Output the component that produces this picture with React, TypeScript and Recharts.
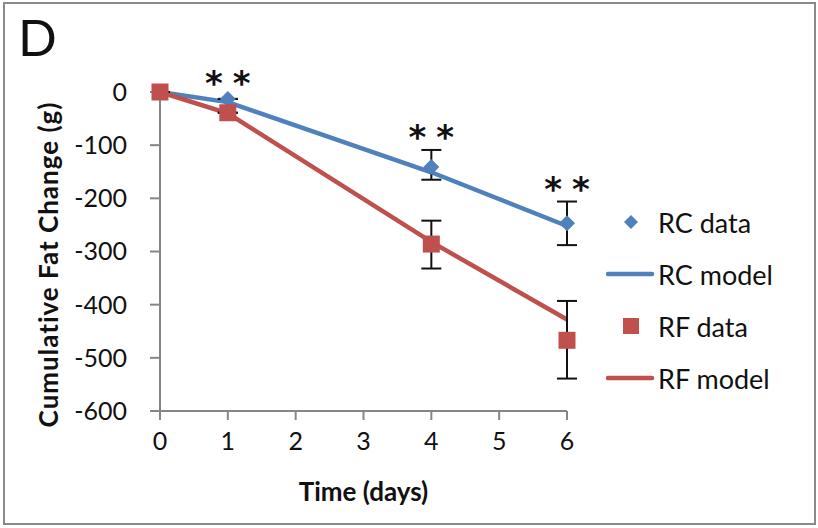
import React from "react";
import {
  ComposedChart, Line, Scatter, XAxis, YAxis, ErrorBar, ReferenceDot, Label,
} from "recharts";

// Excel-ish defaults
const BLUE = "#4f81bd";
const RED = "#c0504d";
const AXIS = "#868686";
const FONT = "Lato, 'Open Sans', sans-serif";

const days = [0, 1, 4, 6];
const rcData = [0, -13, -141, -247];
const rcErrLow = [0, 0, 24, 41];
const rcErrHigh = [0, 0, 32, 41];
const rcModel = [0, -19, -151, -252];
const rfData = [0, -39, -286, -467];
const rfErrLow = [0, 0, 46, 72];
const rfErrHigh = [0, 0, 44, 74];
const rfModel = [0, -40, -282, -428];
const sigDays = [1, 4, 6];

const xTicks = [0, 1, 2, 3, 4, 5, 6];
const yTicks = [0, -100, -200, -300, -400, -500, -600];

const rows = days.map((d, i) => ({
  day: d,
  rcData: rcData[i],
  rcErr: [rcErrLow[i], rcErrHigh[i]],
  rcModel: rcModel[i],
  rfData: rfData[i],
  rfErr: [rfErrLow[i], rfErrHigh[i]],
  rfModel: rfModel[i],
}));

function Diamond(p: { cx?: number; cy?: number }) {
  const { cx = 0, cy = 0 } = p;
  const s = 8;
  return <path d={`M${cx},${cy - s}L${cx + s},${cy}L${cx},${cy + s}L${cx - s},${cy}Z`} fill={BLUE} />;
}

function Square(p: { cx?: number; cy?: number }) {
  const { cx = 0, cy = 0 } = p;
  return <rect x={cx - 8.5} y={cy - 8.5} width={17} height={17} fill={RED} />;
}

// "**" significance marks, sitting just above the RC error bar
function Stars(p: { cx?: number; cy?: number }) {
  return (
    <text x={(p.cx ?? 0) + 5} y={(p.cy ?? 0) - 1} textAnchor="middle" fontFamily="'DejaVu Sans', sans-serif"
      fontWeight={700} fontSize={34} letterSpacing={10} fill="#111">**</text>
  );
}

const legendItems = [
  { name: "RC data", kind: "diamond", color: BLUE },
  { name: "RC model", kind: "line", color: BLUE },
  { name: "RF data", kind: "square", color: RED },
  { name: "RF model", kind: "line", color: RED },
];

const titleStyle = { fill: "#111", fontSize: 26, fontWeight: 700, fontFamily: FONT };

export default function App() {
  return (
    <div style={{ position: "absolute", left: 0, top: 0, width: 818, height: 528, background: "#fff", fontFamily: FONT }}>
      <div style={{
        position: "absolute", left: 3, top: 2, width: 813, height: 523, boxSizing: "border-box",
        border: "2.5px solid #8a8a8a",
      }} />
      <div style={{ position: "absolute", left: 18, top: 6, fontSize: 51, color: "#111" }}>D</div>
      <ComposedChart width={818} height={528} data={rows}
        margin={{ top: 92, right: 251, bottom: 57, left: 90 }}>
        <XAxis dataKey="day" type="number" domain={[0, 6]} ticks={xTicks} height={60}
          stroke={AXIS} strokeWidth={2} tickSize={9} tickMargin={12}
          tick={{ fill: "#111", fontSize: 25, fontFamily: FONT }}>
          <Label content={({ viewBox }: any) => (
            <text x={viewBox.x + viewBox.width / 2} y={501} textAnchor="middle" style={{ ...titleStyle, fontSize: 26 }}>
              Time (days)
            </text>
          )} />
        </XAxis>
        <YAxis type="number" domain={[-600, 0]} ticks={yTicks} width={70}
          stroke={AXIS} strokeWidth={2} tickSize={10} tickMargin={23}
          tick={{ fill: "#111", fontSize: 25, fontFamily: FONT }}>
          <Label content={({ viewBox }: any) => {
            const cy = viewBox.y + viewBox.height / 2 + 13;
            return (
              <text x={48} y={cy} transform={`rotate(-90 48 ${cy})`} textAnchor="middle" dominantBaseline="central"
                letterSpacing={1} style={titleStyle}>
                Cumulative Fat Change (g)
              </text>
            );
          }} />
        </YAxis>
        <Line dataKey="rcModel" type="linear" stroke={BLUE} strokeWidth={4.5} dot={false} isAnimationActive={false} />
        <Line dataKey="rfModel" type="linear" stroke={RED} strokeWidth={4.5} dot={false} isAnimationActive={false} />
        <Scatter dataKey="rcData" shape={<Diamond />} isAnimationActive={false}>
          <ErrorBar dataKey="rcErr" direction="y" width={10} stroke="#111" strokeWidth={2} />
        </Scatter>
        <Scatter dataKey="rfData" shape={<Square />} isAnimationActive={false}>
          <ErrorBar dataKey="rfErr" direction="y" width={10} stroke="#111" strokeWidth={2} />
        </Scatter>
        {sigDays.map((d) => {
          const i = days.indexOf(d);
          return (
            <ReferenceDot key={d} x={d} y={rcData[i] + Math.max(rcErrHigh[i], 5)} r={0}
              ifOverflow="visible" shape={<Stars />} />
          );
        })}
      </ComposedChart>
      <div style={{ position: "absolute", left: 606, top: 196 }}>
        {legendItems.map((it) => (
          <div key={it.name} style={{ display: "flex", alignItems: "center", height: 52, fontSize: 27, color: "#111" }}>
            <svg width={50} height={20} style={{ marginRight: 2 }}>
              {it.kind === "line" && <line x1={2} x2={46} y1={10} y2={10} stroke={it.color} strokeWidth={4.5} strokeLinecap="round" />}
              {it.kind === "diamond" && <path d="M25,3L32,10L25,17L18,10Z" fill={it.color} />}
              {it.kind === "square" && <rect x={17} y={2} width={16} height={16} fill={it.color} />}
            </svg>
            <span>{it.name}</span>
          </div>
        ))}
      </div>
    </div>
  );
}
